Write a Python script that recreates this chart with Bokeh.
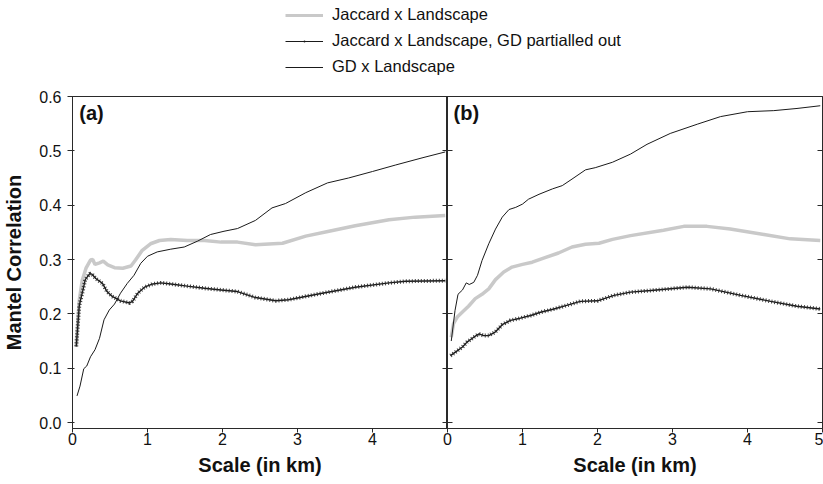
from bokeh.plotting import figure
from bokeh.models import Range1d, FixedTicker, PrintfTickFormatter, LinearAxis, Legend, LegendItem, Label
from bokeh.layouts import column, row
from bokeh.embed import file_html
from bokeh.resources import INLINE

FONT = "Liberation Sans"

# ---------------- data ----------------
# Panel (a)
jac_a_x = [0.05, 0.09, 0.13, 0.18, 0.24, 0.27, 0.30, 0.36, 0.41, 0.47, 0.56, 0.67, 0.78, 0.84, 0.93,
           1.04, 1.16, 1.31, 1.53, 1.76, 1.98, 2.20, 2.44, 2.80, 3.11, 3.42, 3.77, 4.22, 4.57, 4.97]
jac_a_y = [0.140, 0.225, 0.262, 0.284, 0.299, 0.300, 0.291, 0.294, 0.297, 0.290, 0.285, 0.284, 0.288, 0.299, 0.317,
           0.329, 0.335, 0.337, 0.335, 0.335, 0.332, 0.332, 0.327, 0.330, 0.343, 0.352, 0.362, 0.373, 0.378, 0.381]

par_a_x = [0.05, 0.09, 0.14, 0.17, 0.23, 0.26, 0.31, 0.40, 0.46, 0.53, 0.64, 0.76, 0.80, 0.87, 0.96,
           1.07, 1.18, 1.31, 1.53, 1.76, 1.98, 2.20, 2.44, 2.71, 2.88, 3.33, 3.77, 4.22, 4.44, 4.97]
par_a_y = [0.140, 0.215, 0.244, 0.263, 0.274, 0.273, 0.265, 0.256, 0.241, 0.232, 0.224, 0.220, 0.223, 0.238, 0.249,
           0.255, 0.257, 0.255, 0.251, 0.247, 0.244, 0.241, 0.230, 0.224, 0.226, 0.238, 0.249, 0.257, 0.260, 0.261]

gd_a_x = [0.06, 0.10, 0.15, 0.19, 0.24, 0.30, 0.36, 0.42, 0.49, 0.56, 0.64, 0.73, 0.82, 0.91, 1.00, 1.13,
          1.31, 1.49, 1.67, 1.84, 2.02, 2.20, 2.44, 2.66, 2.84, 3.11, 3.40, 3.68, 4.00, 4.31, 4.66, 4.97]
gd_a_y = [0.049, 0.067, 0.099, 0.104, 0.121, 0.134, 0.155, 0.189, 0.207, 0.218, 0.238, 0.256, 0.271, 0.293, 0.306, 0.314,
          0.319, 0.323, 0.334, 0.346, 0.352, 0.357, 0.372, 0.395, 0.403, 0.423, 0.441, 0.450, 0.462, 0.474, 0.487, 0.498]

# Panel (b)
jac_b_x = [0.05, 0.08, 0.13, 0.22, 0.28, 0.37, 0.46, 0.55, 0.64, 0.75, 0.86, 1.00, 1.13, 1.31,
           1.48, 1.66, 1.84, 2.02, 2.20, 2.44, 2.88, 3.15, 3.46, 3.77, 4.22, 4.57, 4.97]
jac_b_y = [0.157, 0.182, 0.194, 0.206, 0.214, 0.228, 0.236, 0.246, 0.263, 0.277, 0.286, 0.291, 0.295, 0.304,
           0.312, 0.323, 0.328, 0.330, 0.337, 0.344, 0.354, 0.361, 0.361, 0.356, 0.346, 0.338, 0.335]

par_b_x = [0.04, 0.11, 0.20, 0.26, 0.35, 0.42, 0.48, 0.55, 0.64, 0.73, 0.84, 0.97, 1.11, 1.24,
           1.42, 1.60, 1.77, 2.00, 2.22, 2.44, 2.71, 3.20, 3.51, 3.91, 4.31, 4.66, 4.97]
par_b_y = [0.123, 0.130, 0.139, 0.148, 0.157, 0.163, 0.160, 0.160, 0.167, 0.180, 0.188, 0.192, 0.197, 0.203,
           0.209, 0.216, 0.223, 0.224, 0.234, 0.240, 0.243, 0.249, 0.246, 0.234, 0.223, 0.214, 0.209]

gd_b_x = [0.05, 0.10, 0.14, 0.20, 0.25, 0.29, 0.35, 0.40, 0.46, 0.55, 0.64, 0.73, 0.82, 0.91, 1.00, 1.08,
          1.22, 1.40, 1.53, 1.66, 1.84, 1.97, 2.20, 2.44, 2.66, 2.97, 3.33, 3.64, 4.00, 4.35, 4.66, 4.97]
gd_b_y = [0.150, 0.206, 0.236, 0.244, 0.257, 0.254, 0.258, 0.271, 0.298, 0.329, 0.356, 0.378, 0.392, 0.396, 0.402, 0.411,
          0.420, 0.430, 0.436, 0.448, 0.465, 0.469, 0.479, 0.494, 0.512, 0.532, 0.549, 0.563, 0.572, 0.574, 0.578, 0.583]

y_ticks = [0.0, 0.1, 0.2, 0.3, 0.4, 0.5, 0.6]
x_ticks_a = [0, 1, 2, 3, 4]
x_ticks_b = [0, 1, 2, 3, 4, 5]
series_labels = ["Jaccard x Landscape", "Jaccard x Landscape, GD partialled out", "GD x Landscape"]

# off-screen placeholder points for the legend-only renderers
legend_dummy_x = [-5, -4]
legend_dummy_y = [-5, -5]

GRAY = "#c9c9c9"
INK = "#1a1a1a"
AX = "#2a2a2a"


def style_axis(ax, size="16px"):
    ax.axis_line_color = AX
    ax.major_tick_line_color = AX
    ax.minor_tick_line_color = None
    ax.major_label_text_font = FONT
    ax.major_label_text_font_size = size
    ax.major_label_text_color = "#111111"
    ax.axis_label_text_font = FONT
    ax.axis_label_text_font_size = "20px"
    ax.axis_label_text_font_style = "bold"
    ax.axis_label_text_color = "#111111"


def hide_labels(ax):
    ax.major_label_overrides = {t: "" for t in y_ticks}
    ax.major_label_text_color = None
    ax.major_label_standoff = 0


def draw_series(p, jx, jy, px, py, gx, gy):
    p.line(jx, jy, line_color=GRAY, line_width=3.5)
    p.line(gx, gy, line_color=INK, line_width=1)
    p.line(px, py, line_color=INK, line_width=1.4)
    p.line(px, py, line_color="#2a2a2a", line_width=4, line_dash="1 2", line_alpha=0.9)


def make_panel(xt, left_border, right_border):
    p = figure(frame_width=375, frame_height=332,
               x_range=Range1d(0, 5), y_range=Range1d(-0.011, 0.6),
               output_backend="svg", toolbar_location=None,
               min_border_left=left_border, min_border_right=right_border,
               min_border_top=16, min_border_bottom=10)
    p.grid.visible = False
    p.outline_line_color = AX
    p.xaxis.ticker = FixedTicker(ticks=xt)
    p.yaxis.ticker = FixedTicker(ticks=y_ticks)
    p.yaxis.formatter = PrintfTickFormatter(format="%.1f")
    p.xaxis.axis_label = "Scale (in km)"
    for ax in p.xaxis + p.yaxis:
        style_axis(ax)
    p.xaxis.major_tick_in = 0
    p.xaxis.major_tick_out = 4
    p.xaxis.major_label_standoff = 0
    p.xaxis.axis_label_standoff = 6
    return p


fa = make_panel(x_ticks_a, 72, 0)
fa.yaxis.axis_label = "Mantel Correlation"
fa.yaxis.major_tick_in = 2
fa.yaxis.major_tick_out = 5
fa.yaxis.major_label_standoff = 6
fa.yaxis.axis_label_standoff = 11
draw_series(fa, jac_a_x, jac_a_y, par_a_x, par_a_y, gd_a_x, gd_a_y)
fa.add_layout(Label(x=0.09, y=0.590, text="(a)", text_font=FONT, text_font_size="20px",
                    text_font_style="bold", text_baseline="top", text_color="#111111"))

fb = make_panel(x_ticks_b, 12, 1)
hide_labels(fb.yaxis[0])
fb.yaxis.major_tick_in = 5
fb.yaxis.major_tick_out = 5
rax = LinearAxis(ticker=FixedTicker(ticks=y_ticks), major_tick_in=5, major_tick_out=0)
style_axis(rax)
hide_labels(rax)
fb.add_layout(rax, "right")
fb.border_fill_color = None
fb.margin = (0, 0, 0, -12)
draw_series(fb, jac_b_x, jac_b_y, par_b_x, par_b_y, gd_b_x, gd_b_y)
fb.add_layout(Label(x=0.08, y=0.590, text="(b)", text_font=FONT, text_font_size="20px",
                    text_font_style="bold", text_baseline="top", text_color="#111111"))

# Legend strip
lf = figure(width=823, height=80, x_range=Range1d(0, 1), y_range=Range1d(0, 1),
            output_backend="svg", toolbar_location=None, min_border=0,
            x_axis_type=None, y_axis_type=None)
lf.grid.visible = False
lf.outline_line_color = None
r1 = lf.line(legend_dummy_x, legend_dummy_y, line_color=GRAY, line_width=3)
r2 = lf.line(legend_dummy_x, legend_dummy_y, line_color=INK, line_width=1)
r2m = lf.scatter(legend_dummy_x, legend_dummy_y, marker="dot", size=8, line_color=INK, fill_color=INK)
r3 = lf.line(legend_dummy_x, legend_dummy_y, line_color=INK, line_width=1)
leg = Legend(items=[LegendItem(label=series_labels[0], renderers=[r1]),
                    LegendItem(label=series_labels[1], renderers=[r2, r2m]),
                    LegendItem(label=series_labels[2], renderers=[r3])],
             location=(285, 4), orientation="vertical",
             glyph_width=38, glyph_height=18, label_height=18, spacing=7,
             label_standoff=9, padding=0, margin=0,
             border_line_color=None, background_fill_alpha=0,
             label_text_font=FONT, label_text_font_size="16.5px", label_text_color="#111111")
lf.add_layout(leg, "center")

layout = column(lf, row(fa, fb, spacing=0), spacing=0)
open("out.html", "w").write(file_html(layout, INLINE))
